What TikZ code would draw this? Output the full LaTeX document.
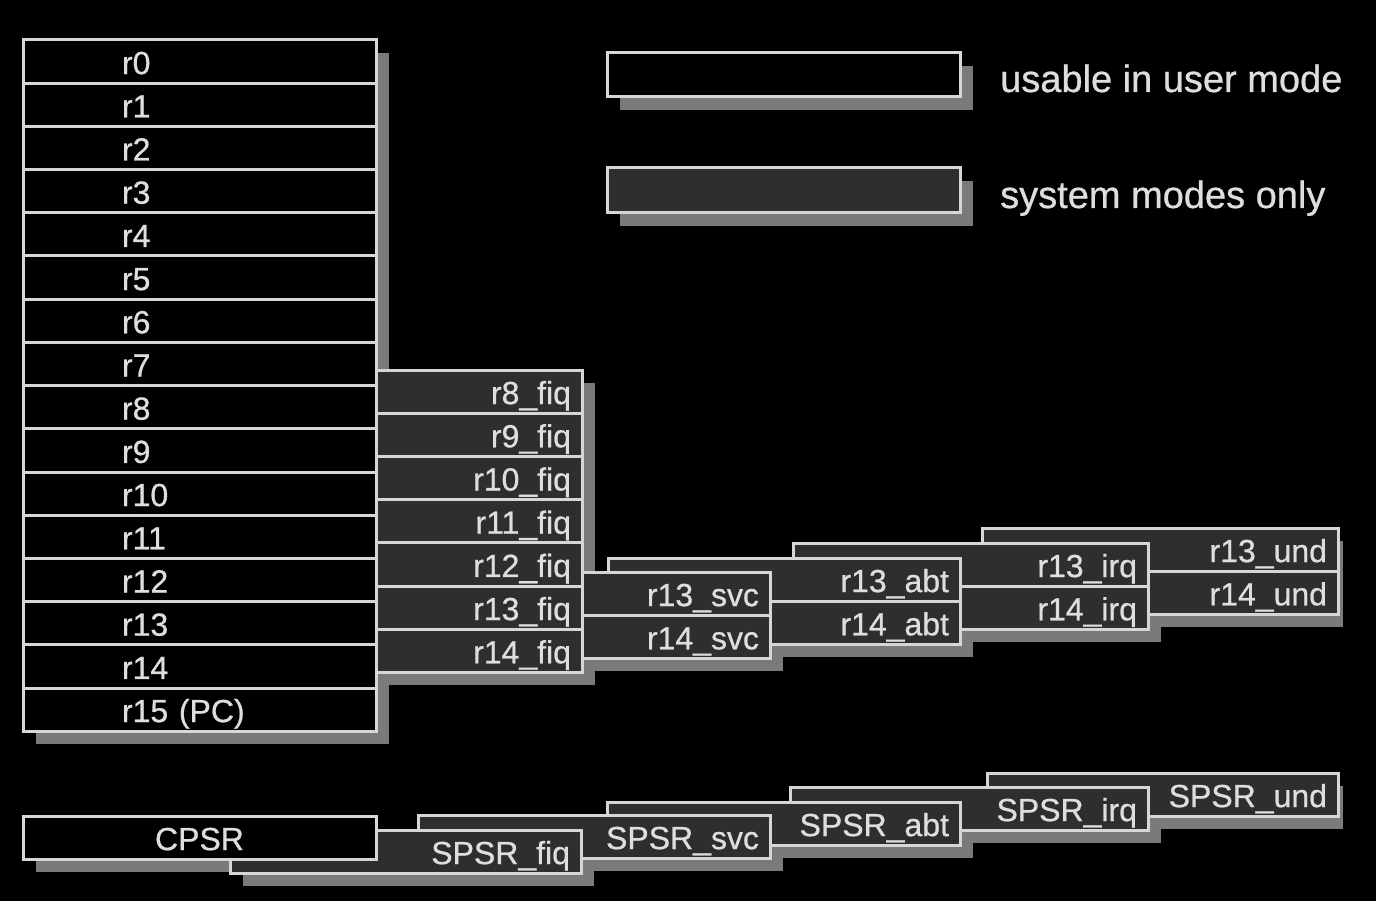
\documentclass[tikz,border=0pt]{standalone}
\usepackage{fontspec}
\setmainfont{Liberation Sans}
\newfontfamily\lblfont{Liberation Sans}[FakeBold=0.7]
\definecolor{bordergray}{RGB}{214,214,214}
\definecolor{sysfill}{RGB}{46,46,46}
\definecolor{shadowgray}{RGB}{122,122,122}
\definecolor{txtgray}{RGB}{222,222,222}
\pgfdeclarelayer{bg}
\pgfsetlayers{bg,main}
\tikzset{
  regbase/.style={draw=bordergray, line width=3pt, outer sep=0pt, anchor=north west,
    minimum height=43.2pt, inner ysep=0pt, text=txtgray,
    font=\lblfont\fontsize{32}{36}\selectfont, text height=25pt, text depth=0pt},
  userbox/.style={regbase, fill=black},
  sysbox/.style={regbase, fill=sysfill},
  mainrow/.style={userbox, minimum width=353pt, inner xsep=99pt, text width=155pt, align=left},
  bank/.style 2 args={sysbox, minimum width=#1, inner xsep=11pt, text width=#2, align=right},
  legtext/.style={anchor=base west, inner sep=0pt, text=txtgray, font=\lblfont\fontsize{38}{41}\selectfont},
  shadowfill/.style={fill=shadowgray}
}
\begin{document}
\begin{tikzpicture}[x=1pt, y=-1pt]
\useasboundingbox (0,0) rectangle (1376,901);

% legend
\node[userbox, minimum width=353pt, minimum height=44pt] (leguser) at (607,53) {};
\node[sysbox, minimum width=353pt, minimum height=45pt] (legsys) at (607,168) {};
\node[legtext] (legusertxt) at (1000,92) {usable in user mode};
\node[legtext] (legsystxt) at (1000,208) {system modes only};

% banked registers, back to front
\node[bank={356pt}{334pt}] (r13und) at (982,528) {r13\_und};
\node[bank={356pt}{334pt}] (r14und) at (982,571.2) {r14\_und};
\node[bank={355pt}{333pt}] (r13irq) at (793,543) {r13\_irq};
\node[bank={355pt}{333pt}] (r14irq) at (793,586.2) {r14\_irq};
\node[bank={352pt}{330pt}] (r13abt) at (608,558) {r13\_abt};
\node[bank={352pt}{330pt}] (r14abt) at (608,601.2) {r14\_abt};
\node[bank={370pt}{348pt}] (r13svc) at (400,572) {r13\_svc};
\node[bank={370pt}{348pt}] (r14svc) at (400,615.2) {r14\_svc};
\foreach \i in {8,...,14}
  \node[bank={206pt}{184pt}] (fiq\i) at (376,{370+(\i-8)*43.2}) {r\i\_fiq};

% user registers
\foreach \i in {0,...,15}
  \node[mainrow] (r\i) at (23,{40+\i*43.2}) {\ifnum\i=15 r15 (PC)\else r\i\fi};

% status registers, back to front
\node[bank={351pt}{329pt}] (spsrund) at (987,773) {SPSR\_und};
\node[bank={358pt}{336pt}] (spsrirq) at (790,787) {SPSR\_irq};
\node[bank={353pt}{331pt}] (spsrabt) at (607,802) {SPSR\_abt};
\node[bank={352pt}{330pt}] (spsrsvc) at (418,815) {SPSR\_svc};
\node[bank={351pt}{329pt}] (spsrfiq) at (230,830) {SPSR\_fiq};
\node[userbox, minimum width=353pt, inner xsep=11pt, text width=331pt, align=center] (cpsr) at (23,816) {CPSR};

\begin{pgfonlayer}{bg}
  \fill[black] (0,0) rectangle (1376,901);
  \foreach \a/\b in {leguser/leguser, legsys/legsys, r0/r15, fiq8/fiq14,
      r13svc/r14svc, r13abt/r14abt, r13irq/r14irq,
      cpsr/cpsr, spsrfiq/spsrfiq, spsrsvc/spsrsvc, spsrabt/spsrabt, spsrirq/spsrirq}
    \fill[shadowfill] ([shift={(13,13)}]\a.north west) rectangle ([shift={(13,13)}]\b.south east);
  \foreach \a/\b in {r13und/r14und, spsrund/spsrund}
    \fill[shadowfill] ([shift={(5,13)}]\a.north west) rectangle ([shift={(5,13)}]\b.south east);
\end{pgfonlayer}
\end{tikzpicture}
\end{document}
